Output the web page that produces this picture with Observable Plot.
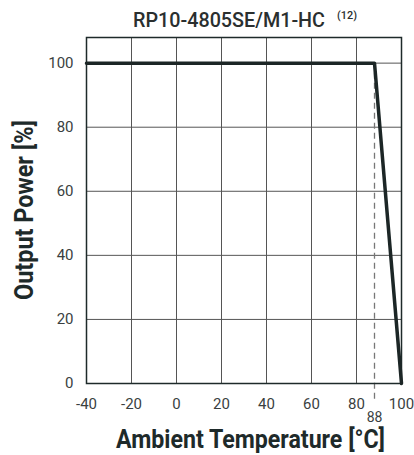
<!DOCTYPE html>
<html><head><meta charset="utf-8">
<script src="https://cdn.jsdelivr.net/npm/d3@7"></script>
<script src="https://cdn.jsdelivr.net/npm/@observablehq/plot@0.6"></script>
<style>body{margin:0;background:#fff}</style>
</head><body><div id="chart"></div>
<script>
const temps = [-40, 88, 100];
const power = [100, 100, 0];
const xTicks = [-40, -20, 0, 20, 40, 60, 80, 100];
const yTicks = [0, 20, 40, 60, 80, 100];
const deratingStart = 88;
const title = "RP10-4805SE/M1-HC";
const note = "(12)";
const xLabel = "Ambient Temperature [°C]";
const yLabel = "Output Power [%]";
const data = temps.map((t, i) => ({t, p: power[i]}));
const font = "'Roboto','Liberation Sans',sans-serif";
const plot = Plot.plot({
  width: 414, height: 455,
  marginLeft: 86, marginRight: 13, marginTop: 37, marginBottom: 72,
  style: {fontFamily: font, fontSize: "15px", color: "#3a3f3f"},
  x: {domain: [-40, 100], label: null},
  y: {domain: [0, 108], label: null},
  marks: [
    Plot.gridX(xTicks.slice(1, -1), {stroke: "#555", strokeOpacity: 1, strokeWidth: 1}),
    Plot.gridY(yTicks.slice(1), {stroke: "#555", strokeOpacity: 1, strokeWidth: 1}),
    Plot.ruleX([deratingStart], {y1: 100, y2: -6.2, stroke: "#777", strokeWidth: 1.3, strokeDasharray: "6,4", clip: false}),
    Plot.frame({stroke: "#1e2a2a", strokeWidth: 1.5}),
    Plot.line(data, {x: "t", y: "p", stroke: "#1c2626", strokeWidth: 3.5}),
    Plot.text([deratingStart], {x: d => d, y: 0, text: d => String(d), dy: 34, fill: "#3a3f3f", fontSize: 14}),
    Plot.axisX({ticks: xTicks, tickSize: 0, tickPadding: 15, fontSize: 15, tickFormat: d => String(d)}),
    Plot.axisY({ticks: yTicks, tickSize: 0, tickPadding: 13, fontSize: 15, tickFormat: d => String(d)})
  ]
});
const svg = d3.select(plot);
const addText = (x, y, size, weight, fill, len, str, transform) => {
  const el = svg.append("text").attr("text-anchor", "start")
    .attr("font-family", font).attr("font-size", size).attr("font-weight", weight).attr("fill", fill)
    .attr("textLength", len).attr("lengthAdjust", "spacingAndGlyphs").text(str);
  if (transform) el.attr("transform", transform); else el.attr("x", x).attr("y", y);
};
addText(133, 27, 21, 500, "#2a2f2f", 192, title);
addText(337, 19, 11, 500, "#2a2f2f", 20, note);
addText(116, 448, 25, "bold", "#1e2a2a", 269, xLabel);
addText(0, 0, 25, "bold", "#1e2a2a", 180, yLabel, "translate(33,300) rotate(-90)");
document.getElementById("chart").appendChild(plot);
</script></body></html>
